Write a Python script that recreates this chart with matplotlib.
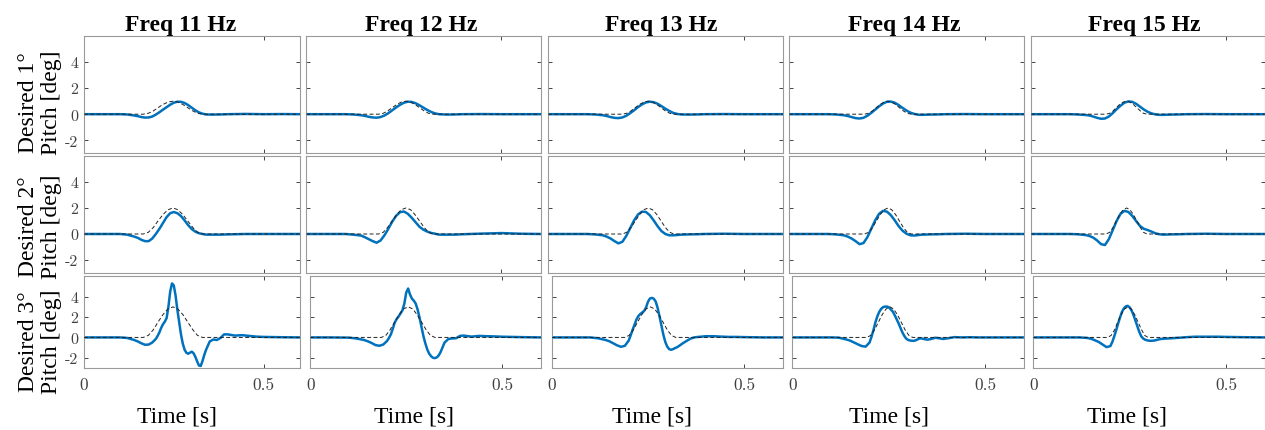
import matplotlib
matplotlib.use("Agg")
import matplotlib.pyplot as plt

# column / row headings
freqs = [11, 12, 13, 14, 15]
desired_deg = [1, 2, 3]

# desired pitch (dashed): time points per column, values per row
t_ref_f11 = [0, 0.165, 0.179, 0.193, 0.206, 0.220, 0.234, 0.248, 0.261, 0.275, 0.289, 0.303, 0.316, 0.330, 0.6]
t_ref_f12 = [0, 0.185, 0.197, 0.208, 0.220, 0.232, 0.243, 0.255, 0.267, 0.278, 0.290, 0.302, 0.313, 0.325, 0.6]
t_ref_f13 = [0, 0.190, 0.201, 0.212, 0.223, 0.234, 0.245, 0.256, 0.267, 0.278, 0.289, 0.300, 0.311, 0.322, 0.6]
t_ref_f14 = [0, 0.193, 0.203, 0.213, 0.223, 0.233, 0.243, 0.253, 0.262, 0.272, 0.282, 0.292, 0.302, 0.312, 0.6]
t_ref_f15 = [0, 0.193, 0.202, 0.211, 0.219, 0.228, 0.237, 0.246, 0.254, 0.263, 0.272, 0.281, 0.289, 0.298, 0.6]
ref_1deg = [0, 0, 0.07, 0.25, 0.5, 0.75, 0.93, 1.0, 0.93, 0.75, 0.5, 0.25, 0.07, 0, 0]
ref_2deg = [0, 0, 0.13, 0.5, 1.0, 1.5, 1.87, 2.0, 1.87, 1.5, 1.0, 0.5, 0.13, 0, 0]
ref_3deg = [0, 0, 0.2, 0.75, 1.5, 2.25, 2.8, 3.0, 2.8, 2.25, 1.5, 0.75, 0.2, 0, 0]

# measured pitch, 1 and 2 deg rows
t_12 = [0, 0.05, 0.10, 0.12, 0.14, 0.15, 0.16, 0.17, 0.18, 0.19, 0.20, 0.21, 0.22, 0.23, 0.24, 0.25,
        0.26, 0.27, 0.28, 0.29, 0.30, 0.31, 0.32, 0.33, 0.34, 0.36, 0.38, 0.40, 0.45, 0.50, 0.55, 0.60]
p1_f11 = [0, 0, 0, -0.02, -0.1, -0.15, -0.22, -0.26, -0.25, -0.18, -0.03, 0.15, 0.35, 0.54, 0.73, 0.88,
          0.96, 0.95, 0.86, 0.7, 0.5, 0.3, 0.14, 0.04, -0.02, -0.03, -0.02, 0, 0.02, 0, 0.01, 0]
p1_f12 = [0, 0, 0, -0.02, -0.08, -0.13, -0.2, -0.25, -0.27, -0.22, -0.1, 0.08, 0.3, 0.52, 0.72, 0.88,
          0.96, 0.94, 0.84, 0.68, 0.5, 0.32, 0.17, 0.06, 0, -0.03, -0.02, 0, 0.01, 0, 0, 0]
p1_f13 = [0, 0, 0, -0.02, -0.08, -0.14, -0.22, -0.28, -0.3, -0.25, -0.12, 0.08, 0.3, 0.54, 0.75, 0.9,
          0.96, 0.92, 0.8, 0.62, 0.42, 0.25, 0.1, 0.02, -0.02, -0.03, -0.02, 0, 0.01, 0, 0, 0]
p1_f14 = [0, 0, 0, -0.02, -0.08, -0.14, -0.22, -0.3, -0.33, -0.28, -0.12, 0.1, 0.35, 0.6, 0.82, 0.95,
          0.97, 0.88, 0.7, 0.48, 0.28, 0.12, 0.02, -0.04, -0.05, -0.03, -0.02, 0, 0.01, 0, 0, 0]
p1_f15 = [0, 0, 0, -0.02, -0.06, -0.1, -0.18, -0.28, -0.35, -0.33, -0.18, 0.08, 0.38, 0.65, 0.88, 0.98,
          0.95, 0.8, 0.58, 0.36, 0.18, 0.06, -0.02, -0.05, -0.05, -0.03, -0.02, 0, 0.01, 0, 0, 0]

p2_f11 = [0, 0, 0, -0.05, -0.2, -0.3, -0.45, -0.55, -0.55, -0.35, 0.0, 0.4, 0.85, 1.3, 1.6, 1.69,
          1.6, 1.38, 1.05, 0.68, 0.38, 0.18, 0.06, 0, -0.05, -0.05, -0.05, -0.03, 0, 0, 0, 0]
p2_f12 = [0, 0, 0, -0.05, -0.12, -0.25, -0.4, -0.55, -0.67, -0.5, -0.1, 0.4, 0.95, 1.4, 1.68, 1.73,
          1.55, 1.25, 0.9, 0.55, 0.33, 0.18, 0.08, 0.02, -0.05, -0.05, -0.05, -0.02, 0.03, 0.07, 0.02, 0]
p2_f13 = [0, 0, 0, -0.03, -0.1, -0.2, -0.35, -0.55, -0.72, -0.6, -0.15, 0.45, 1.05, 1.5, 1.72, 1.7,
          1.45, 1.05, 0.6, 0.22, 0.0, -0.1, -0.1, -0.08, -0.05, -0.03, -0.02, 0, 0.02, 0, 0, 0]
p2_f14 = [0, 0, 0, -0.03, -0.1, -0.2, -0.35, -0.55, -0.78, -0.7, -0.25, 0.4, 1.05, 1.55, 1.78, 1.72,
          1.45, 1.05, 0.6, 0.25, 0.02, -0.1, -0.12, -0.08, -0.05, -0.03, -0.02, 0, 0.02, 0, 0, 0]
p2_f15 = [0, 0, 0, -0.02, -0.08, -0.15, -0.28, -0.5, -0.78, -0.85, -0.4, 0.3, 1.0, 1.55, 1.78, 1.7,
          1.4, 1.0, 0.62, 0.4, 0.3, 0.18, 0.05, -0.02, -0.05, -0.03, -0.02, 0, 0.02, 0, 0, 0]

# measured pitch, 3 deg row (finer steps around the peak)
t_3 = [0, 0.05, 0.10, 0.12, 0.14, 0.15, 0.16, 0.17, 0.18, 0.19,
       0.20, 0.205, 0.21, 0.215, 0.22, 0.225, 0.23, 0.235, 0.24, 0.245, 0.25, 0.255, 0.26, 0.265,
       0.27, 0.275, 0.28, 0.285, 0.29, 0.295, 0.30, 0.305, 0.31, 0.315, 0.32, 0.325, 0.33, 0.335, 0.34,
       0.35, 0.36, 0.37, 0.38, 0.39, 0.40, 0.42, 0.44, 0.46, 0.48, 0.50, 0.55, 0.60]
p3_f11 = [0, 0, 0, -0.05, -0.25, -0.4, -0.58, -0.72, -0.7, -0.5,
          -0.15, 0.15, 0.5, 0.95, 1.3, 1.55, 1.9, 3.0, 4.5, 5.3, 5.1, 4.1, 2.7, 1.5,
          0.3, -0.6, -1.2, -1.5, -1.6, -1.5, -1.4, -1.55, -1.9, -2.35, -2.75, -2.8, -2.3, -1.7, -1.2,
          -0.4, -0.2, -0.25, -0.05, 0.3, 0.3, 0.18, 0.22, 0.15, 0.08, 0.05, 0.02, 0]
p3_f12 = [0, 0, -0.02, -0.1, -0.25, -0.38, -0.55, -0.75, -0.82, -0.7,
          -0.35, -0.05, 0.3, 0.85, 1.45, 1.8, 2.05, 2.35, 2.65, 3.3, 4.4, 4.8, 4.2, 3.8,
          3.6, 3.3, 2.7, 1.9, 1.0, 0.1, -0.6, -1.2, -1.6, -1.85, -2.0, -2.03, -1.95, -1.75, -1.4,
          -0.5, -0.15, -0.1, -0.08, 0.15, 0.18, 0.08, 0.15, 0.12, 0.1, 0.07, 0.03, 0]
p3_f13 = [0, 0, 0, -0.08, -0.25, -0.38, -0.58, -0.78, -0.92, -0.82,
          -0.3, 0.2, 0.75, 1.25, 1.75, 2.1, 2.3, 2.45, 2.6, 2.95, 3.5, 3.82, 3.88, 3.8,
          3.52, 2.9, 2.05, 1.15, 0.25, -0.45, -0.9, -1.15, -1.21, -1.15, -1.05, -0.97, -0.85, -0.72, -0.58,
          -0.35, -0.12, 0, 0.05, 0.08, 0.12, 0.12, 0.08, 0.05, 0.05, 0.03, 0, 0]
p3_f14 = [0, 0, 0, -0.02, -0.2, -0.32, -0.5, -0.68, -0.85, -0.9,
          -0.5, 0.05, 0.7, 1.45, 2.05, 2.5, 2.8, 2.97, 3.03, 3.03, 2.95, 2.75, 2.55, 2.2,
          1.8, 1.4, 0.95, 0.5, 0.15, -0.12, -0.25, -0.3, -0.33, -0.33, -0.28, -0.18, -0.1, -0.1, -0.15,
          -0.22, -0.15, -0.03, -0.08, -0.15, -0.1, 0.03, 0, 0.02, 0, 0, 0, 0]
p3_f15 = [0, 0, 0, 0, -0.05, -0.13, -0.28, -0.45, -0.7, -0.95,
          -0.85, -0.45, 0.1, 0.7, 1.35, 1.95, 2.5, 2.85, 3.05, 3.1, 2.95, 2.65, 2.2, 1.65,
          1.1, 0.55, 0.12, -0.1, -0.22, -0.28, -0.32, -0.33, -0.32, -0.3, -0.25, -0.2, -0.16, -0.14, -0.12,
          -0.1, -0.08, -0.05, -0.03, 0, 0.03, 0.07, 0.07, 0.07, 0.07, 0.05, 0.02, 0]

t_refs = [t_ref_f11, t_ref_f12, t_ref_f13, t_ref_f14, t_ref_f15]
refs = [ref_1deg, ref_2deg, ref_3deg]
rows = [
    (t_12, [p1_f11, p1_f12, p1_f13, p1_f14, p1_f15]),
    (t_12, [p2_f11, p2_f12, p2_f13, p2_f14, p2_f15]),
    (t_3, [p3_f11, p3_f12, p3_f13, p3_f14, p3_f15]),
]

SERIF = ["Liberation Serif", "DejaVu Serif"]
W, H = 1265, 431
fig = plt.figure(figsize=(W / 100, H / 100), dpi=100)

# axes boxes in pixels (MATLAB-like tiled layout)
col_l = [84, 306.4, 548, 789, 1031]
col_r = [299.5, 540.5, 782.8, 1024, 1264.5]
col_l_bot = [84, 310.3, 551.7, 792.3, 1033.3]
row_y = [(37, 154.3), (157, 274), (277.3, 369)]
title_x = [0.448, 0.49, 0.481, 0.489, 0.483]
xlabel_x = [0.43, 0.45, 0.434, 0.417, 0.407]
ylabel_y = [0.437, 0.404, 0.30]

for r in range(3):
    t_meas, series = rows[r]
    yt, yb = row_y[r]
    for c in range(5):
        left = col_l_bot[c] if r == 2 else col_l[c]
        ax = fig.add_axes([left / W, 1 - yb / H, (col_r[c] - left) / W, (yb - yt) / H])
        ax.plot(t_meas, series[c], color="#0072BD", lw=1.8, solid_joinstyle="round", zorder=2)
        ax.plot(t_refs[c], refs[r], color="#222222", lw=0.7, ls=(0, (4, 2.5)), zorder=3)

        ax.set_xlim(0, 0.6)
        ax.set_ylim(-3, 6)
        ax.set_xticks([0, 0.5])
        ax.set_yticks([-2, 0, 2, 4])
        ax.tick_params(direction="in", length=3, width=0.6, color="#262626",
                       top=True, right=True)
        for s in ax.spines.values():
            s.set_color("#9a9a9a")
            s.set_linewidth(0.8)

        if r == 2:
            ax.set_xticklabels(["0", "0.5"], fontfamily="cmr10", fontsize=12.5, color="#404040")
            ax.tick_params(axis="x", pad=6)
            ax.set_xlabel("Time [s]", fontfamily=SERIF, fontsize=17)
            ax.xaxis.set_label_coords(xlabel_x[c], -0.41)
            ax.xaxis.label.set_va("top")
        else:
            ax.set_xticklabels([])

        if c == 0:
            ax.set_yticklabels(["-2", "0", "2", "4"], fontfamily="cmr10", fontsize=11.5, color="#404040")
            ax.tick_params(axis="y", pad=4)
            ax.set_ylabel("Desired %d°\nPitch [deg]" % desired_deg[r],
                          fontfamily=SERIF, fontsize=17, linespacing=1.15)
            ax.yaxis.set_label_coords(-0.102, ylabel_y[r])
        else:
            ax.set_yticklabels([])

        if r == 0:
            ax.set_title("Freq %d Hz" % freqs[c], fontfamily=SERIF, fontsize=17,
                         fontweight="bold", pad=4.5, x=title_x[c])

fig.savefig("out.png", dpi=100)
